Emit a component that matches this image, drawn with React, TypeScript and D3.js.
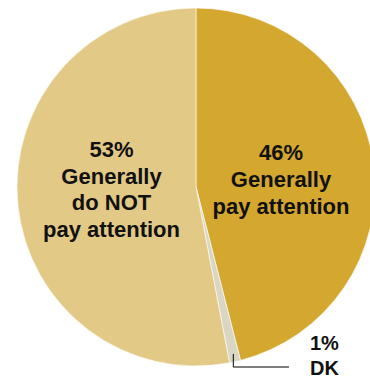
import React from "react";
import * as d3 from "d3";

const categories = ["Generally pay attention", "DK", "Generally do NOT pay attention"];
const values = [46, 1, 53];
const colors = ["#D4A72F", "#DAD6C4", "#E2C985"];
const rightLabel = ["46%", "Generally", "pay attention"];
const leftLabel = ["53%", "Generally", "do NOT", "pay attention"];
const dkLabel = ["1%", "DK"];

export default function App() {
  const W = 370, H = 379;
  const cx = 196, cy = 187, r = 179;
  const pie = d3.pie<number>().sort(null).value((d) => d)(values);
  const arc = d3.arc<d3.PieArcDatum<number>>().innerRadius(0).outerRadius(r);
  const dk = pie[1];
  const mid = (dk.startAngle + dk.endAngle) / 2;
  const lx = cx + Math.sin(mid) * (r - 8);
  const ly = cy - Math.cos(mid) * (r - 8);
  const font = "'Liberation Sans', Arial, sans-serif";
  return (
    <svg width={W} height={H} style={{ position: "absolute", left: 0, top: 0 }}>
      <g transform={`translate(${cx},${cy})`}>
        {pie.map((p, i) => (
          <path key={categories[i]} d={arc(p) || ""} fill={colors[i]} stroke="#fff" strokeWidth={0.6} />
        ))}
      </g>
      <polyline points={`${lx},${ly} ${lx},367 289,367`} fill="none" stroke="#000" strokeWidth={1} />
      <g fontFamily={font} fontWeight="bold" fontSize={22} fill="#111" textAnchor="middle">
        {rightLabel.map((t, i) => (
          <text key={"r" + i} x={281} y={160 + i * 27}>{t}</text>
        ))}
        {leftLabel.map((t, i) => (
          <text key={"l" + i} x={111.5} y={157 + i * 26.7}>{t}</text>
        ))}
      </g>
      <g fontFamily={font} fontWeight="bold" fontSize={20} fill="#111">
        {dkLabel.map((t, i) => (
          <text key={"d" + i} x={310} y={350 + i * 25}>{t}</text>
        ))}
      </g>
    </svg>
  );
}
